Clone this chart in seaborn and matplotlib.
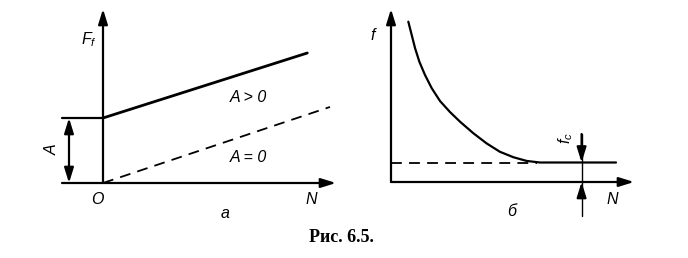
import matplotlib
matplotlib.use("Agg")
import matplotlib.pyplot as plt
import seaborn as sns

# ---------------- data ----------------
# panel a: friction force F_f vs normal load N
A_value = 1.0
n_solid = [0.0, 9.0]
f_solid = [1.0, 2.0]          # A > 0
n_dash = [0.0, 10.0]
f_dash = [0.0, 1.17]          # A = 0

# panel б: friction coefficient f vs N
n_curve = [0.77, 0.92, 1.07, 1.26, 1.51, 1.81, 2.18, 2.62, 3.07, 3.66, 4.25, 4.84, 5.44,
           6.03, 6.62, 10.0]
f_curve = [8.22, 7.54, 6.86, 6.17, 5.49, 4.81, 4.15, 3.59, 3.09, 2.50, 1.98, 1.55, 1.27,
           1.08, 1.0, 1.0]
f_c = 1.0
n_fc_dash = [0.0, 6.5]
n_fc_mark = 8.47

labels_a = {"y": "$F_f$", "x": "N", "o": "O", "pos": "A > 0", "zero": "A = 0", "A": "A", "panel": "а"}
labels_b = {"y": "f", "x": "N", "fc": "$f_c$", "panel": "б"}
caption = "Рис. 6.5."

# ---------------- layout ----------------
W, H = 688, 258
sns.set_theme(style="white")
plt.rcParams["font.family"] = ["Liberation Sans", "DejaVu Sans"]
plt.rcParams["text.color"] = "black"
plt.rcParams["mathtext.fontset"] = "custom"
plt.rcParams["mathtext.it"] = "Liberation Sans:italic"
plt.rcParams["mathtext.rm"] = "Liberation Sans"

fig = plt.figure(figsize=(W / 100, H / 100), dpi=100)
fig.patch.set_facecolor("white")


def make_axes(ox, oy, sx, sy):
    ax = fig.add_axes([0, 0, 1, 1])
    ax.set_xlim(-ox / sx, (W - ox) / sx)
    ax.set_ylim((oy - H) / sy, oy / sy)
    ax.axis("off")
    ax.patch.set_alpha(0)
    return ax


def P(ax_params, px, py):
    ox, oy, sx, sy = ax_params
    return (px - ox) / sx, (oy - py) / sy


LW = 1.6
HEAD = "-|>,head_length=0.9,head_width=0.28"


def arrow(ax, p0, p1, style=HEAD):
    ax.annotate("", xy=p1, xytext=p0, xycoords="data",
                arrowprops=dict(arrowstyle=style, color="black", lw=LW,
                                shrinkA=0, shrinkB=0, mutation_scale=10))


fs = 11.5
TXT = dict(fontsize=fs, ha="center", va="center", color="black")

# ---- panel a ----
pa = (103, 183, 22.7, 65.0)
axa = make_axes(*pa)
sns.lineplot(x=n_solid, y=f_solid, ax=axa, color="black", lw=2.0, sort=False)
sns.lineplot(x=n_dash, y=f_dash, ax=axa, color="black", lw=1.3, sort=False,
             linestyle=(0, (6, 4)))
arrow(axa, P(pa, 103, 183), P(pa, 103, 9))
arrow(axa, P(pa, 62, 183), P(pa, 336, 183))
x0, _ = P(pa, 62, 0)
axa.plot([x0, 0], [A_value, A_value], color="black", lw=LW)
xm, _ = P(pa, 69, 0)
axa.annotate("", xy=(xm, A_value), xytext=(xm, 0),
             arrowprops=dict(arrowstyle="<|-|>,head_length=0.9,head_width=0.28",
                             color="black", lw=LW, shrinkA=0, shrinkB=0, mutation_scale=10))
axa.text(*P(pa, 89, 40), labels_a["y"], style="italic", **TXT)
axa.text(*P(pa, 248, 97), labels_a["pos"], style="italic", **TXT)
axa.text(*P(pa, 248, 157), labels_a["zero"], style="italic", **TXT)
axa.text(*P(pa, 97, 199), labels_a["o"], style="italic", **TXT)
axa.text(*P(pa, 311, 200), labels_a["x"], style="italic", **TXT)
axa.text(*P(pa, 225, 213), labels_a["panel"], style="italic", **TXT)
axa.text(*P(pa, 52, 150), labels_a["A"], style="italic", rotation=90, **TXT)

# ---- panel б ----
pb = (391, 182, 22.5, 19.5)
axb = make_axes(*pb)
sns.lineplot(x=n_curve, y=f_curve, ax=axb, color="black", lw=1.6, sort=False)
sns.lineplot(x=n_fc_dash, y=[f_c, f_c], ax=axb, color="black", lw=1.3, sort=False,
             linestyle=(0, (6, 4)))
arrow(axb, P(pb, 391, 182), P(pb, 391, 9))
arrow(axb, P(pb, 391, 182), P(pb, 634, 182))
_, ytop = P(pb, 0, 134)
_, ybot = P(pb, 0, 216)
axb.plot([n_fc_mark, n_fc_mark], [ytop, ybot], color="black", lw=1.0)
arrow(axb, (n_fc_mark, ytop), (n_fc_mark, f_c))
arrow(axb, (n_fc_mark, ybot + 1.2), (n_fc_mark, 0))
axb.text(*P(pb, 373, 35), labels_b["y"], style="italic", **TXT)
axb.text(*P(pb, 566, 138), labels_b["fc"], rotation=90, **TXT)
axb.text(*P(pb, 612, 200), labels_b["x"], style="italic", **TXT)
axb.text(*P(pb, 512, 212), labels_b["panel"], style="italic", **TXT)

fig.text(341 / W, 1 - 237 / H, caption, fontsize=13, fontweight="bold", color="black",
         family=["Liberation Serif", "DejaVu Serif"], ha="center", va="center")

fig.savefig("out.png", dpi=100)
